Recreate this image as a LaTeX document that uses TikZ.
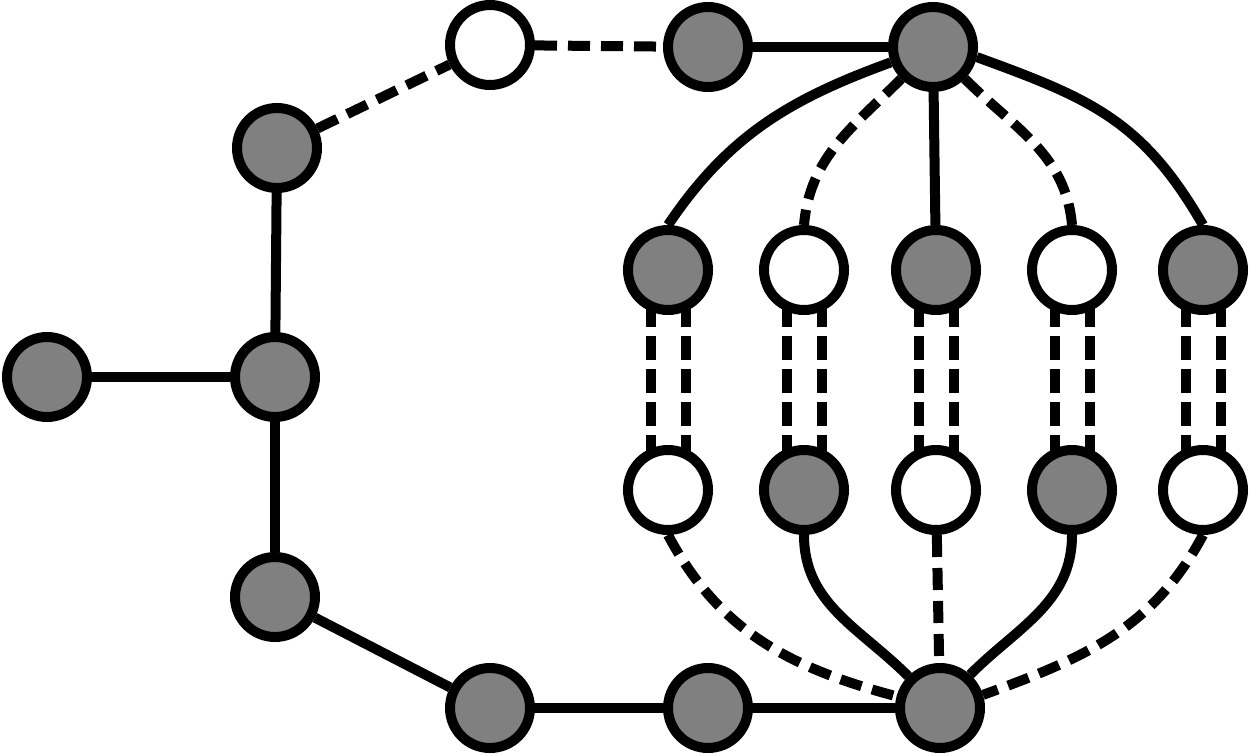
\documentclass[tikz,border=0pt]{standalone}
\usetikzlibrary{backgrounds}
\definecolor{nodegray}{RGB}{128,128,128}
\begin{document}
\begin{tikzpicture}[x=1pt,y=-1pt,
  vtx/.style={circle,draw=black,line width=10pt,minimum size=80pt,inner sep=0pt},
  grayv/.style={vtx,fill=nodegray},
  whitev/.style={vtx,fill=white},
  edge/.style={line width=10pt,draw=black},
  dedge/.style={edge,dash pattern=on 22pt off 11pt},
  ddedge/.style={edge,dash pattern=on 24pt off 9pt}]
\useasboundingbox (0,0) rectangle (1250,755);
% left part
\node[grayv] (A) at (47,377) {};
\node[grayv] (B) at (275,377) {};
\node[grayv] (C) at (277,148) {};
\node[grayv] (D) at (275,597) {};
\node[whitev] (E) at (490,45) {};
\node[grayv] (F) at (708,47) {};
\node[grayv] (G) at (933,47) {};
\node[grayv] (H) at (490,708) {};
\node[grayv] (I) at (708,708) {};
\node[grayv] (J) at (940,708) {};
% row 1
\node[grayv]  (r1a) at (668,270) {};
\node[whitev] (r1b) at (804,270) {};
\node[grayv]  (r1c) at (936,270) {};
\node[whitev] (r1d) at (1072,270) {};
\node[grayv]  (r1e) at (1203,270) {};
% row 2
\node[whitev] (r2a) at (668,490) {};
\node[grayv]  (r2b) at (804,490) {};
\node[whitev] (r2c) at (936,490) {};
\node[grayv]  (r2d) at (1072,490) {};
\node[whitev] (r2e) at (1203,490) {};
\begin{pgfonlayer}{background}
\draw[edge] (A) -- (B);
\draw[edge] (B) -- (C);
\draw[edge] (B) -- (D);
\draw[edge] (F) -- (G);
\draw[edge] (D) -- (H);
\draw[edge] (H) -- (I);
\draw[edge] (I) -- (J);
\draw[dedge] (C) -- (E);
\draw[dedge] (E) -- (F);
% top fan
\draw[edge] (G.200) to[out=200,in=56] (r1a.north);
\draw[dedge] (G.225) to[out=225,in=85] (r1b.north);
\draw[edge] (G) -- (r1c);
\draw[dedge] (G.-45) to[out=-45,in=95] (r1d.north);
\draw[edge] (G.-13) to[out=-20,in=120,looseness=1.1] (r1e.north);
% bottom fan
\draw[dedge] (r2a.south) to[out=-62,in=165] (J.165);
\draw[edge] (r2b.south) to[out=-90,in=135] (J.135);
\draw[dedge] (r2c) -- (J);
\draw[edge] (r2d.south) to[out=-90,in=45] (J.48);
\draw[dedge] (r2e.south) to[out=-118,in=20] (J.17);
% double dashed links
\foreach \n in {a,b,c,d,e} {
  \draw[ddedge] ([xshift=-17.5pt]r1\n.center) -- ([xshift=-17.5pt]r2\n.center);
  \draw[ddedge] ([xshift=17.5pt]r1\n.center) -- ([xshift=17.5pt]r2\n.center);
}
\end{pgfonlayer}
\end{tikzpicture}
\end{document}
